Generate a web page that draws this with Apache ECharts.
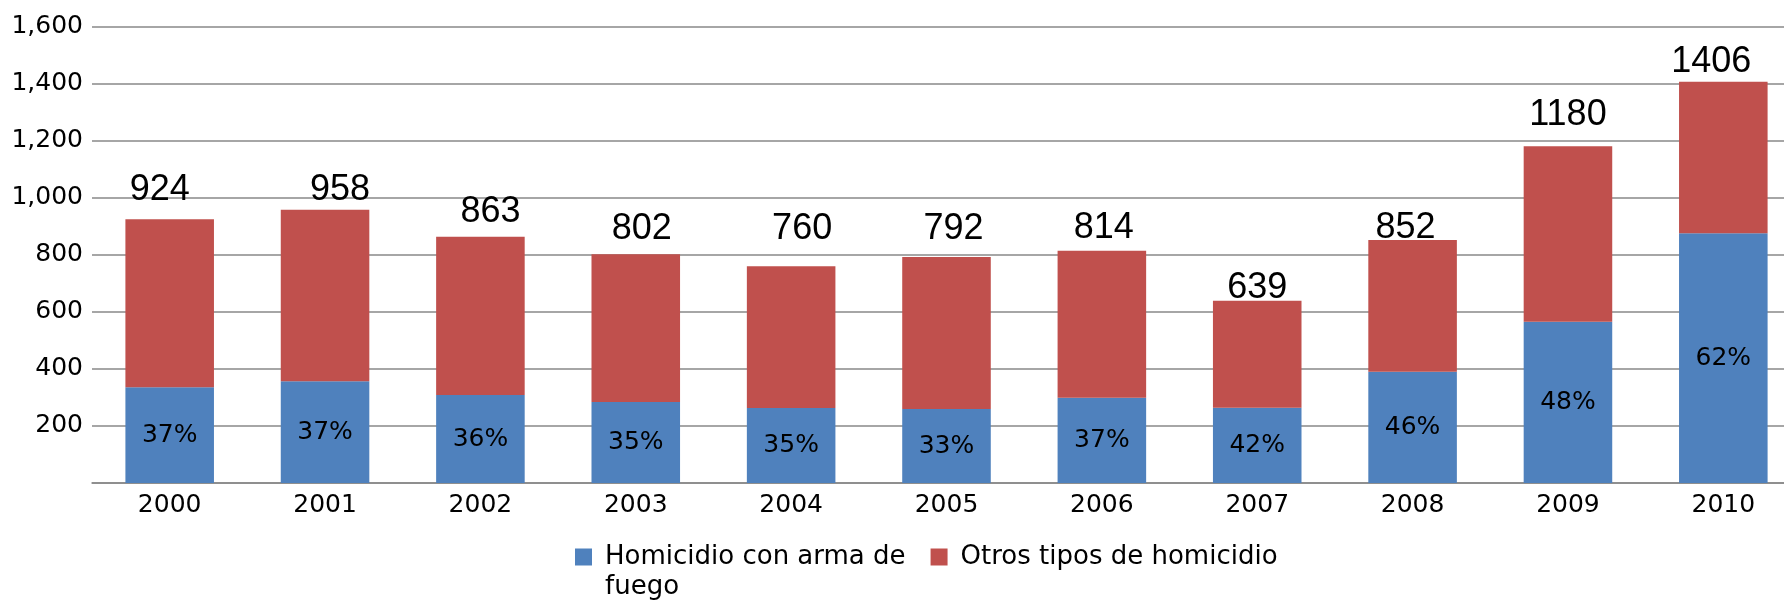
<!DOCTYPE html>
<html>
<head>
<meta charset="utf-8">
<title>Homicidios 2000-2010</title>
<script src="https://cdn.jsdelivr.net/npm/echarts@6/dist/echarts.min.js"></script>
<style>
    html, body { margin: 0; padding: 0; background: #fff; }
    #chart { width: 1784px; height: 600px; }
</style>
</head>
<body>
<div id="chart"></div>
<script>
    // datos
    var years = ['2000', '2001', '2002', '2003', '2004', '2005', '2006', '2007', '2008', '2009', '2010'];
    var totals = [924, 958, 863, 802, 760, 792, 814, 639, 852, 1180, 1406];
    var armaFuego = [336, 357, 308, 284, 263, 259, 299, 264, 390, 565, 875];
    var pctLabels = ['37%', '37%', '36%', '35%', '35%', '33%', '37%', '42%', '46%', '48%', '62%'];
    var seriesNames = ['Homicidio con arma de fuego', 'Otros tipos de homicidio'];

    // los totales estan colocados a mano en el original
    var totalLabelShift = [[-10, -6], [15, 3], [10, -2], [6, -2], [11, -14], [7, -5], [2, 0], [0, 10], [-7, 11], [0, -8], [-12, 3]];

    var otros = totals.map(function (t, i) { return t - armaFuego[i]; });
    var font = 'DejaVu Sans';

    var chart = echarts.init(document.getElementById('chart'));
    chart.setOption({
        animation: false,
        grid: {
            left: 92,
            width: 1709,
            top: 26.5,
            bottom: 117,
            outerBoundsMode: 'none'
        },
        legend: {
            left: 570,
            top: 507,
            itemWidth: 17,
            itemHeight: 17,
            itemGap: 25,
            icon: 'rect',
            // linea vacia arriba para que el cuadro quede junto a la primera linea
            formatter: function (name) {
                return name === seriesNames[0] ? '\nHomicidio con arma de\nfuego' : name;
            },
            textStyle: {
                fontFamily: font,
                fontSize: 26,
                lineHeight: 30,
                color: '#000',
                padding: [0, 0, 0, 8]
            },
            data: seriesNames
        },
        xAxis: {
            type: 'category',
            data: years,
            axisLine: { lineStyle: { color: '#888', width: 1.5 } },
            axisTick: { show: false },
            axisLabel: {
                fontFamily: font,
                fontSize: 25,
                color: '#000',
                margin: 10
            }
        },
        yAxis: {
            type: 'value',
            min: 0,
            max: 1600,
            interval: 200,
            axisLine: { show: false },
            axisTick: { show: false },
            axisLabel: {
                fontFamily: font,
                fontSize: 25,
                color: '#000',
                margin: 9,
                formatter: function (v) {
                    return v === 0 ? '' : v.toLocaleString('en-US');
                }
            },
            splitLine: { lineStyle: { color: '#888', width: 1.5 } }
        },
        series: [
            {
                name: seriesNames[0],
                type: 'bar',
                stack: 'total',
                barWidth: '57%',
                itemStyle: { color: '#4F81BD' },
                label: {
                    show: true,
                    position: 'inside',
                    fontFamily: font,
                    fontSize: 25,
                    color: '#000',
                    formatter: function (p) { return pctLabels[p.dataIndex]; }
                },
                data: armaFuego
            },
            {
                name: seriesNames[1],
                type: 'bar',
                stack: 'total',
                itemStyle: { color: '#C0504D' },
                label: {
                    show: true,
                    position: 'top',
                    distance: 5,
                    fontFamily: 'Liberation Sans',
                    fontSize: 36,
                    color: '#000',
                    formatter: function (p) { return String(totals[p.dataIndex]); }
                },
                data: otros.map(function (v, i) {
                    return { value: v, label: { offset: totalLabelShift[i] } };
                })
            }
        ]
    });
</script>
</body>
</html>
